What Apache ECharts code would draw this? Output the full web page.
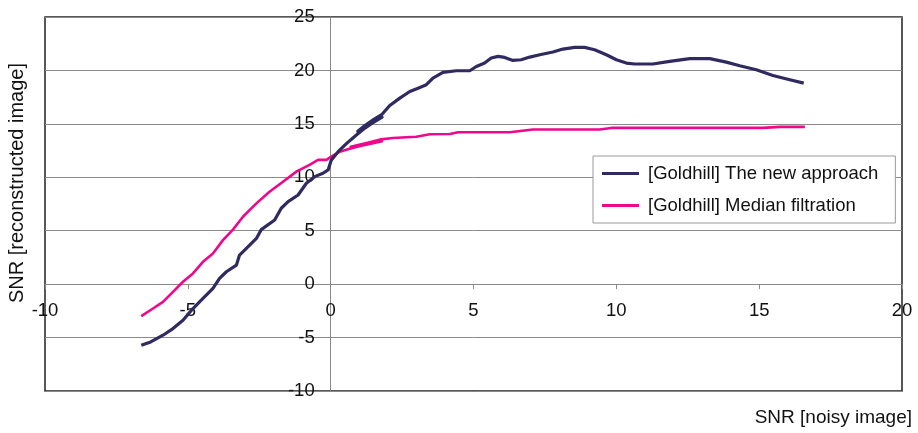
<!DOCTYPE html>
<html>
<head>
<meta charset="utf-8">
<script src="https://cdn.jsdelivr.net/npm/echarts@6/dist/echarts.min.js"></script>
<style>html,body{margin:0;padding:0;background:#fff}#c{width:918px;height:433px}</style>
</head>
<body>
<div id="c"></div>
<script>
var xTicks = [-10, -5, 0, 5, 10, 15, 20];
var yTicks = [-10, -5, 0, 5, 10, 15, 20, 25];
var seriesNames = ['[Goldhill] The new approach', '[Goldhill] Median filtration'];

var newX = [-6.63,-6.30,-5.87,-5.52,-5.17,-4.82,-4.47,-4.12,-3.89,-3.65,-3.30,-3.19,-2.95,-2.60,-2.43,-1.96,-1.73,-1.49,-1.14,-0.85,-0.56,-0.27,-0.09,0.02,0.26,0.55,0.90,1.20,1.50,1.80,0.95,1.20,1.50,1.80,2.06,2.42,2.77,3.06,3.35,3.58,3.93,4.40,4.87,5.10,5.39,5.62,5.86,6.09,6.38,6.67,6.97,7.32,7.78,8.13,8.54,8.89,9.24,9.65,10.00,10.35,10.64,11.28,11.87,12.57,13.27,13.85,14.32,14.90,15.48,16.07,16.56];
var newY = [-5.72,-5.41,-4.78,-4.16,-3.38,-2.28,-1.34,-0.40,0.53,1.16,1.78,2.72,3.34,4.28,5.10,6.00,7.10,7.72,8.34,9.44,10.06,10.38,10.69,11.60,12.40,13.15,13.95,14.60,15.15,15.62,14.30,14.85,15.40,15.90,16.70,17.41,18.03,18.34,18.66,19.28,19.81,19.97,19.97,20.37,20.69,21.16,21.31,21.22,20.94,21.00,21.25,21.47,21.72,22.00,22.16,22.16,21.94,21.47,21.00,20.69,20.60,20.60,20.85,21.10,21.10,20.78,20.44,20.06,19.53,19.13,18.81];

var medX = [-6.63,-6.22,-5.87,-5.52,-5.17,-4.82,-4.47,-4.12,-3.77,-3.42,-3.07,-2.60,-2.14,-1.67,-1.20,-0.74,-0.44,-0.15,0.02,0.32,0.60,1.00,1.40,1.80,0.70,1.00,1.40,1.77,2.18,2.65,3.00,3.47,4.17,4.46,6.27,7.08,9.42,9.82,15.13,15.72,16.60];
var medY = [-3.00,-2.28,-1.66,-0.72,0.22,1.00,2.09,2.87,4.12,5.10,6.31,7.56,8.65,9.59,10.53,11.16,11.63,11.63,11.94,12.40,12.62,12.90,13.15,13.38,12.85,13.05,13.30,13.55,13.68,13.75,13.80,14.03,14.05,14.22,14.22,14.47,14.47,14.62,14.62,14.72,14.72];

function pairs(xs, ys){ return xs.map(function(x,i){ return [x, ys[i]]; }); }

var GL = 45, GR = 16, GT = 17, GB = 42, W = 918, H = 433;
var xMin = xTicks[0], xMax = xTicks[xTicks.length-1];
var yMin = yTicks[0], yMax = yTicks[yTicks.length-1];
var plotW = W - GL - GR, plotH = H - GT - GB;
// offsets that move each axis from the plot edge to the other axis's zero
var xAxisOffset = -plotH * (0 - yMin) / (yMax - yMin);
var yAxisOffset = -plotW * (0 - xMin) / (xMax - xMin);

var FONT = '"Liberation Sans", Arial, sans-serif';
var TXT = '#111';
var chart = echarts.init(document.getElementById('c'), null, {renderer:'canvas'});
chart.setOption({
  backgroundColor: '#ffffff',
  animation: false,
  textStyle: {fontFamily: FONT},
  grid: {left: GL, right: GR, top: GT, bottom: GB, show: true, borderColor: '#222', borderWidth: 1.5, containLabel: false},
  xAxis: {
    type: 'value', min: xMin, max: xMax, interval: 5, position: 'bottom', offset: xAxisOffset,
    axisLine: {onZero: false, lineStyle: {color: '#8a8a8a', width: 1}},
    axisTick: {show: true, length: 5, lineStyle: {color: '#8a8a8a'}},
    axisLabel: {margin: 17, fontSize: 18.5, color: TXT, fontFamily: FONT},
    splitLine: {show: false}
  },
  yAxis: {
    type: 'value', min: yMin, max: yMax, interval: 5, position: 'left', offset: yAxisOffset,
    axisLine: {onZero: false, lineStyle: {color: '#8a8a8a', width: 1}},
    axisTick: {show: false},
    axisLabel: {margin: 16, fontSize: 18.5, color: TXT, fontFamily: FONT},
    splitLine: {show: true, lineStyle: {color: '#8a8a8a', width: 1}}
  },
  legend: {
    orient: 'vertical', left: 593, top: 156,
    backgroundColor: '#fff', borderColor: '#999', borderWidth: 1,
    padding: [8, 17, 8, 9], itemGap: 13, itemWidth: 37, itemHeight: 3, icon: 'rect',
    textStyle: {fontSize: 18.5, color: TXT, fontFamily: FONT, padding: [0,0,0,4]},
    data: seriesNames
  },
  graphic: [
    {type: 'text', right: 6, top: 408, style: {text: 'SNR [noisy image]', font: '19px ' + FONT, fill: TXT}},
    {type: 'text', x: 17, y: 183, rotation: Math.PI/2, style: {text: 'SNR [reconstructed image]', font: '20px ' + FONT, fill: TXT, textAlign: 'center', textVerticalAlign: 'middle'}}
  ],
  series: [
    {name: seriesNames[0], type: 'line', data: pairs(newX, newY), showSymbol: false, symbol: 'none', color: '#2f2b60', lineStyle: {width: 3.2, color: '#2f2b60', join: 'round'}, z: 3},
    {name: seriesNames[1], type: 'line', data: pairs(medX, medY), showSymbol: false, symbol: 'none', color: '#f0078b', lineStyle: {width: 2.6, color: '#f0078b', join: 'round'}, z: 2}
  ]
});
</script>
</body>
</html>
